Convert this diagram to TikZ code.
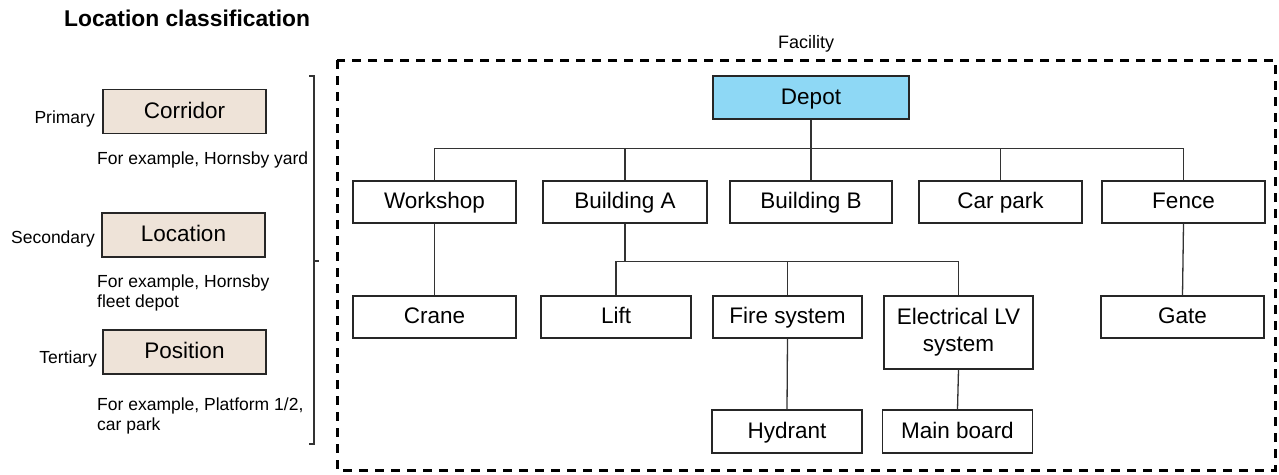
\documentclass[tikz,border=0pt]{standalone}
\usepackage{fontspec}
\setmainfont{Liberation Sans}
\definecolor{levelfill}{HTML}{EEE3D8}
\definecolor{rootfill}{HTML}{8ED8F5}
\definecolor{edge}{HTML}{333333}
\begin{document}
\begin{tikzpicture}[x=1pt,y=-1pt,
  box/.style={draw=black!85, line width=1.3pt, fill=white, inner sep=0pt,
    minimum height=42pt, font=\fontsize{22.5}{27}\selectfont, align=center},
  oneline/.style={text height=17pt, text depth=4pt},
  classbox/.style={box, oneline, fill=levelfill, minimum width=163pt, minimum height=44pt},
  note/.style={font=\fontsize{17.5}{20}\selectfont, inner sep=0pt, align=left},
  link/.style={draw=edge, line width=1.3pt},
  frame/.style={line width=3pt, dash pattern=on 9pt off 7pt},
  brace/.style={draw=edge, line width=1.1pt}]
\useasboundingbox (0,0) rectangle (1279,474);

% heading
\node[anchor=base west, inner sep=0pt, font=\fontsize{22.8}{27}\selectfont\bfseries] (title) at (64,26) {Location classification};

% classification levels
\node[classbox] (corridor) at (184.5,111.5) {Corridor};
\node[classbox] (location) at (183.5,235) {Location};
\node[classbox] (position) at (184.5,352) {Position};
\node[note, anchor=base east] (primary) at (95,123) {Primary};
\node[note, anchor=base east] (secondary) at (95,243) {Secondary};
\node[note, anchor=base east] (tertiary) at (97,363) {Tertiary};
% multi-line notes are anchored at the baseline of their last line
\node[note, anchor=base west] (ex1) at (97,164) {For example, Hornsby yard};
\node[note, anchor=base west] (ex2) at (97,307) {For example, Hornsby\\fleet depot};
\node[note, anchor=base west] (ex3) at (97,430) {For example, Platform 1/2,\\car park};

% bracket grouping the levels
\draw[brace] (309,76) -- (314,76) -- (314,444) -- (309,444);
\draw[brace] (314,261) -- (319,261);

% facility frame
\draw[frame] (337,60) rectangle (1275,470);
\node[anchor=base west, inner sep=0pt, font=\fontsize{18}{22}\selectfont] (facility) at (778,48) {Facility};

% hierarchy
\node[box, oneline, fill=rootfill, minimum width=196pt, minimum height=43pt] (depot) at (811,97.5) {Depot};

\node[box, oneline, minimum width=163pt] (workshop) at (434.5,202) {Workshop};
\node[box, oneline, minimum width=164pt] (builda) at (625,202) {Building A};
\node[box, oneline, minimum width=162pt] (buildb) at (811,202) {Building B};
\node[box, oneline, minimum width=163pt] (carpark) at (1000.5,202) {Car park};
\node[box, oneline, minimum width=163pt] (fence) at (1183.5,202) {Fence};

\node[box, oneline, minimum width=163pt] (crane) at (434.5,317) {Crane};
\node[box, oneline, minimum width=150pt] (lift) at (616,317) {Lift};
\node[box, oneline, minimum width=149pt] (fire) at (787.5,317) {Fire system};
\node[box, minimum width=149pt, minimum height=73pt] (elec) at (958.5,332.5) {Electrical LV\\system};
\node[box, oneline, minimum width=163pt] (gate) at (1182.5,317) {Gate};

\node[box, oneline, minimum width=150pt, minimum height=43pt] (hydrant) at (787,431.5) {Hydrant};
\node[box, oneline, minimum width=150pt, minimum height=43pt] (mainboard) at (957.5,431.5) {Main board};

% connectors
\foreach \child in {workshop,builda,buildb,carpark,fence}
  \draw[link] (depot.south) -- ++(0,29) -| (\child.north);
\foreach \child in {lift,fire,elec}
  \draw[link] (builda.south) -- ++(0,38) -| (\child.north);
\draw[link] (workshop.south) -- (crane.north);
\draw[link] (fence.south) -- (gate.north);
\draw[link] (fire.south) -- (hydrant.north);
\draw[link] (elec.south) -- (mainboard.north);
\end{tikzpicture}
\end{document}
